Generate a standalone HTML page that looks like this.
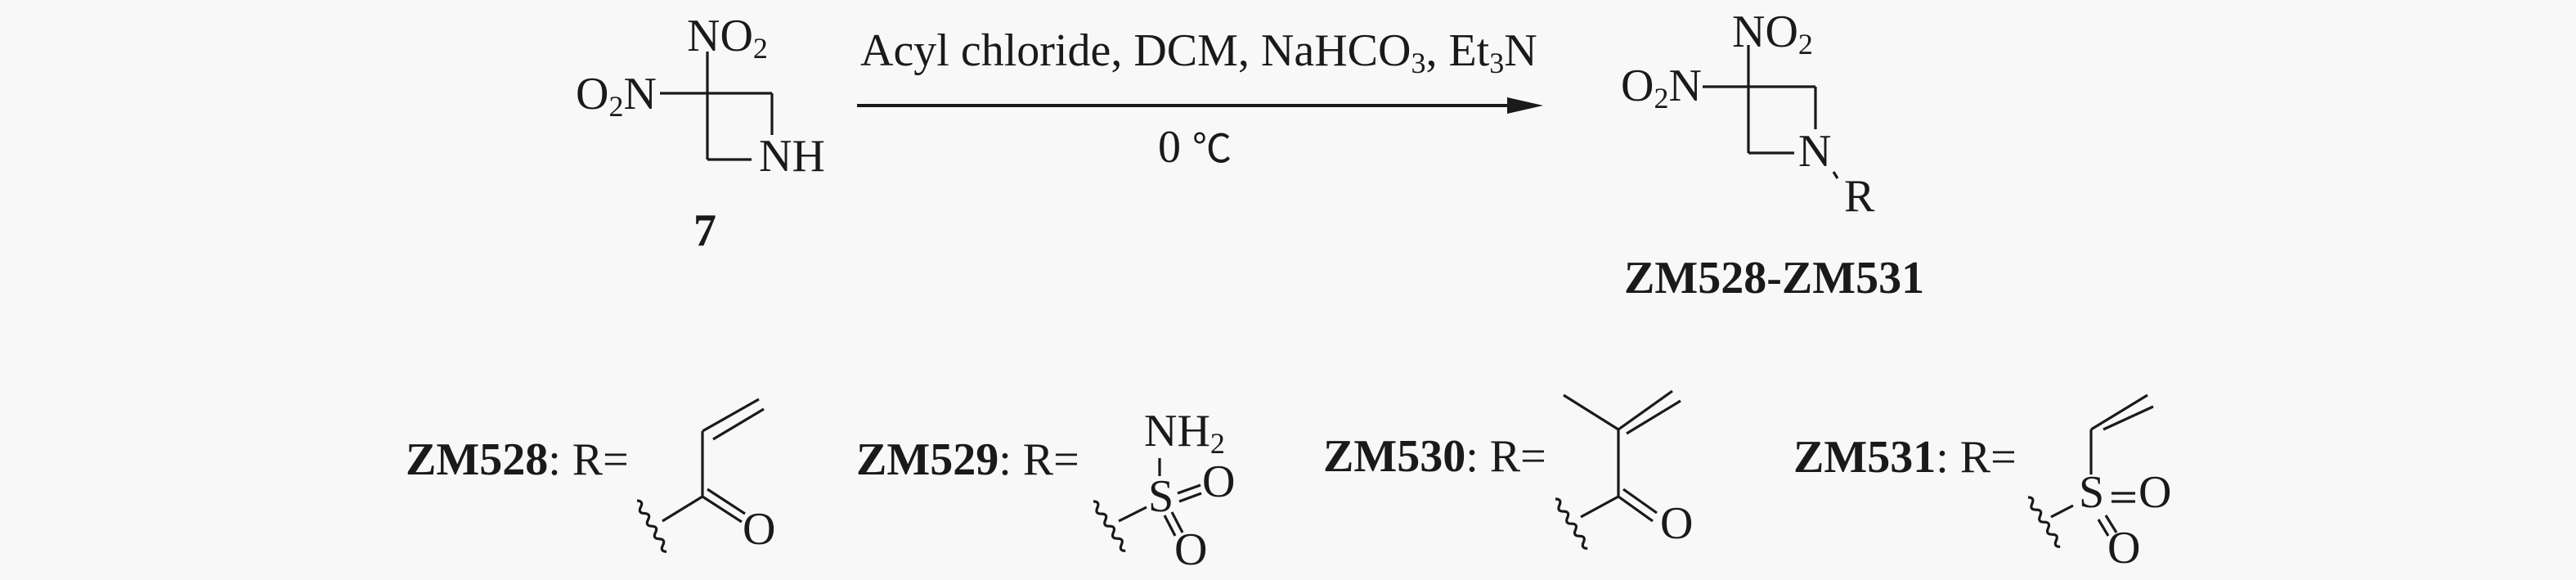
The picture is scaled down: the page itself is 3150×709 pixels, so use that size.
<!DOCTYPE html>
<html><head><meta charset="utf-8"><style>
html,body{margin:0;padding:0;background:#f8f8f8;}
svg{display:block;}
text{font-family:"Liberation Serif","Noto Serif CJK SC",serif;fill:#1a1a1a;}
</style></head><body>
<svg width="3150" height="709" viewBox="0 0 3150 709" xmlns="http://www.w3.org/2000/svg">
<rect width="3150" height="709" fill="#f8f8f8"/>
<g stroke="#1a1a1a" stroke-width="3.2" fill="none" stroke-linecap="butt">
<!-- reactant 7 -->
<line x1="807" y1="114" x2="944" y2="114"/>
<line x1="865" y1="63" x2="865" y2="195"/>
<line x1="944" y1="114" x2="944" y2="165"/>
<line x1="865" y1="195" x2="919" y2="195"/>
<!-- arrow -->
<line x1="1048" y1="129" x2="1850" y2="129" stroke-width="4"/>
<!-- product -->
<line x1="2082" y1="106" x2="2220" y2="106"/>
<line x1="2138" y1="55" x2="2138" y2="187"/>
<line x1="2220" y1="106" x2="2220" y2="158"/>
<line x1="2138" y1="187" x2="2194" y2="187"/>
<line x1="2242" y1="210" x2="2247" y2="218"/>
<!-- ZM528 -->
<line x1="810" y1="637" x2="859" y2="607"/>
<line x1="859" y1="607" x2="907" y2="638"/>
<line x1="865" y1="598" x2="911" y2="628"/>
<line x1="859" y1="607" x2="859" y2="527"/>
<line x1="859" y1="527" x2="928" y2="488"/>
<line x1="872" y1="537" x2="934" y2="500"/>
<path transform="translate(779,612) rotate(-30)" d="M0 0 q7 4.5 0 9 t0 9 t0 9 t0 9 t0 9 t0 9 t0 9 t0 9"/>
<!-- ZM529 -->
<line x1="1418" y1="560" x2="1418" y2="582"/>
<line x1="1440" y1="603" x2="1468" y2="593"/>
<line x1="1442" y1="613" x2="1469" y2="603"/>
<line x1="1424" y1="630" x2="1437" y2="655"/>
<line x1="1433" y1="626" x2="1446" y2="651"/>
<line x1="1368" y1="637" x2="1402" y2="620"/>
<path transform="translate(1337,613) rotate(-33)" d="M0 0 q7 4.5 0 9 t0 9 t0 9 t0 9 t0 9 t0 9 t0 9 t0 9"/>
<!-- ZM530 -->
<line x1="1933" y1="632" x2="1979" y2="607"/>
<line x1="1979" y1="607" x2="2021" y2="637"/>
<line x1="1985" y1="598" x2="2026" y2="627"/>
<line x1="1979" y1="607" x2="1979" y2="525"/>
<line x1="1979" y1="525" x2="1912" y2="483"/>
<line x1="1979" y1="525" x2="2045" y2="478"/>
<line x1="1989" y1="530" x2="2055" y2="490"/>
<path transform="translate(1902,610) rotate(-33)" d="M0 0 q7 4.5 0 9 t0 9 t0 9 t0 9 t0 9 t0 9 t0 9 t0 9"/>
<!-- ZM531 -->
<line x1="2557" y1="580" x2="2557" y2="525"/>
<line x1="2557" y1="525" x2="2626" y2="483"/>
<line x1="2572" y1="525" x2="2633" y2="497"/>
<line x1="2582" y1="603" x2="2611" y2="603"/>
<line x1="2582" y1="613" x2="2611" y2="613"/>
<line x1="2566" y1="635" x2="2578" y2="655"/>
<line x1="2575" y1="630" x2="2588" y2="651"/>
<line x1="2508" y1="632" x2="2535" y2="618"/>
<path transform="translate(2480,608) rotate(-33)" d="M0 0 q7 4.5 0 9 t0 9 t0 9 t0 9 t0 9 t0 9 t0 9 t0 9"/>
</g>
<polygon points="1843,119 1887,129 1843,139" fill="#1a1a1a"/>

<g font-size="56">
<!-- reactant -->
<text x="840" y="62">NO<tspan font-size="36" dy="9">2</tspan></text>
<text x="704" y="133">O<tspan font-size="36" dy="9">2</tspan><tspan dy="-9">N</tspan></text>
<text x="928" y="209">NH</text>
<text x="862" y="300" text-anchor="middle" font-weight="bold">7</text>
<!-- reagents -->
<text x="1052" y="80">Acyl chloride, DCM, NaHCO<tspan font-size="36" dy="9">3</tspan><tspan dy="-9">, Et</tspan><tspan font-size="36" dy="9">3</tspan><tspan dy="-9">N</tspan></text>
<text x="1416" y="198">0 <tspan font-family="'Noto Sans CJK SC','DejaVu Sans',sans-serif" font-size="48">℃</tspan></text>
<!-- product -->
<text x="2118" y="57">NO<tspan font-size="36" dy="9">2</tspan></text>
<text x="1982" y="123">O<tspan font-size="36" dy="9">2</tspan><tspan dy="-9">N</tspan></text>
<text x="2199" y="203">N</text>
<text x="2255" y="258">R</text>
<text x="1986" y="358" font-weight="bold">ZM528-ZM531</text>
<!-- R groups -->
<text x="496" y="580"><tspan font-weight="bold">ZM528</tspan>: R=</text>
<text x="908" y="665">O</text>
<text x="1047" y="580"><tspan font-weight="bold">ZM529</tspan>: R=</text>
<text x="1399" y="545">NH<tspan font-size="36" dy="9">2</tspan></text>
<text x="1404" y="625">S</text>
<text x="1470" y="607">O</text>
<text x="1436" y="690">O</text>
<text x="1618" y="576"><tspan font-weight="bold">ZM530</tspan>: R=</text>
<text x="2030" y="658">O</text>
<text x="2193" y="577"><tspan font-weight="bold">ZM531</tspan>: R=</text>
<text x="2542" y="620">S</text>
<text x="2615" y="620">O</text>
<text x="2577" y="688">O</text>
</g>
</svg>
</body></html>
